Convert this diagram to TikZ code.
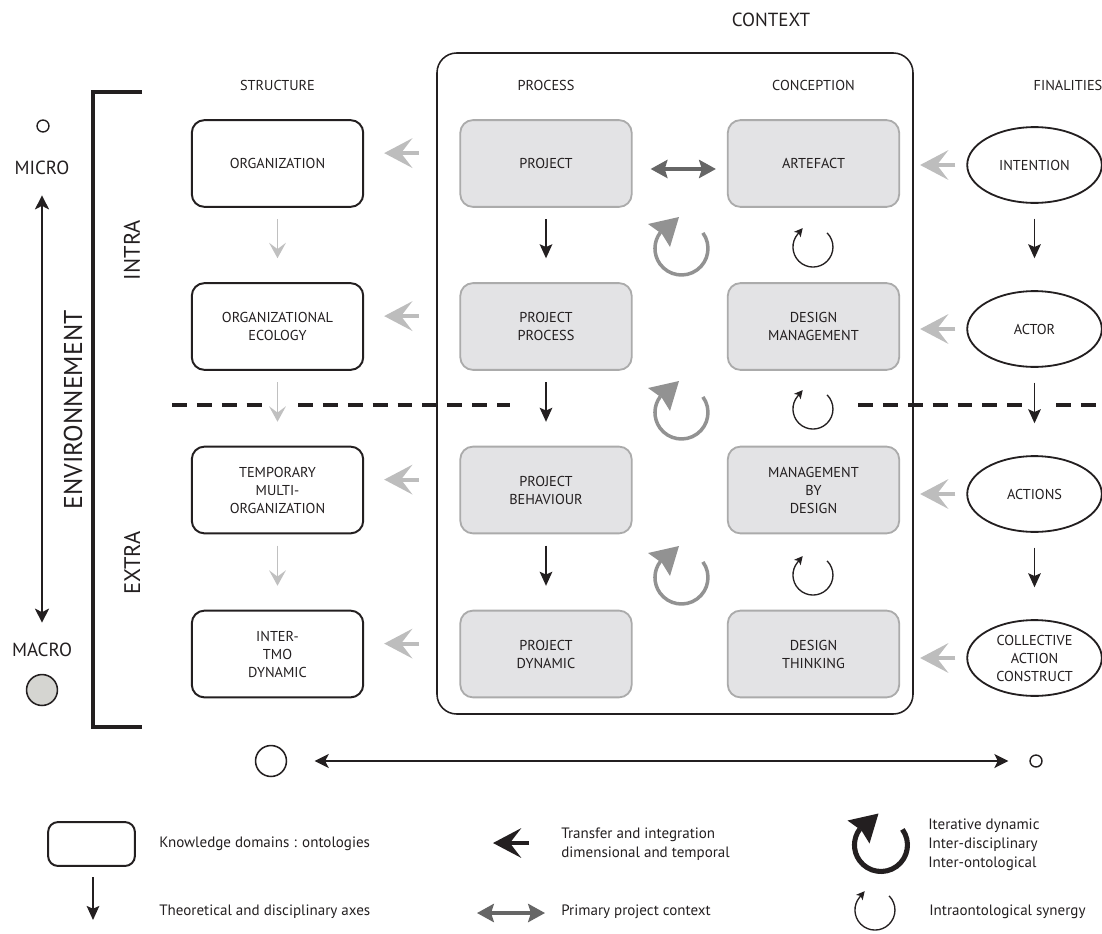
\documentclass[tikz,border=0pt]{standalone}
\usepackage{fontspec}
\setmainfont{PT Sans}
\usetikzlibrary{arrows.meta,shapes.geometric}
\definecolor{ink}{HTML}{231F20}
\definecolor{boxfill}{HTML}{E3E3E5}
\definecolor{boxline}{HTML}{ABABAB}
\definecolor{transgray}{HTML}{BDBDBD}
\definecolor{cycgray}{HTML}{929292}
\definecolor{dblgray}{HTML}{666666}
\definecolor{structgray}{HTML}{C0C0C0}
\definecolor{dotfill}{HTML}{D5D5D1}
\tikzset{
  lbl/.style={font=\fontsize{10.2}{12.8}\selectfont, text=ink, align=center},
  sbox/.style={lbl, draw=ink, line width=1.4pt, rounded corners=9pt, minimum width=121.9pt, minimum height=61.7pt, inner sep=0pt},
  pbox/.style={lbl, draw=boxline, fill=boxfill, line width=1.3pt, rounded corners=9pt, minimum width=121.9pt, minimum height=61.7pt, inner sep=0pt},
  fell/.style={lbl, ellipse, draw=ink, line width=1.3pt, minimum width=95.7pt, minimum height=53.9pt, inner sep=0pt},
  head/.style={lbl},
  legtxt/.style={font=\fontsize{10.7}{13.6}\selectfont, text=ink, align=left, anchor=west, inner sep=0pt},
  transfer/.style={draw=transgray, line width=2.8pt, -{Stealth[length=20pt,width=21pt,inset=8pt]}},
  transferblack/.style={draw=ink, line width=2.8pt, -{Stealth[length=20pt,width=21pt,inset=8pt]}},
  downblack/.style={draw=ink, line width=1.1pt, -{Stealth[length=10pt,width=9pt,inset=2pt]}},
  downgray/.style={draw=structgray, line width=0.9pt, -{Stealth[length=11pt,width=12pt,inset=4.5pt]}},
  dbl/.style={draw=dblgray, line width=2.2pt, {Stealth[length=12pt,width=13pt,inset=2pt]}-{Stealth[length=12pt,width=13pt,inset=2pt]}},
  thindbl/.style={draw=ink, line width=1.1pt, {Stealth[length=10pt,width=10pt,inset=2.5pt]}-{Stealth[length=10pt,width=10pt,inset=2.5pt]}},
  dashline/.style={draw=ink, line width=2.5pt, dash pattern=on 10.6pt off 7.1pt},
  pics/bigcyc/.style 2 args={code={
    \draw[draw=#1, line width=#2] (21.4,-15.6) arc[start angle=-36, end angle=217, radius=26.5];
    \fill[#1] (-2.5,-31.5) -- (-33.5,-24.5) -- (-19.5,-14.5) -- (-11.5,-1.5) -- cycle;
  }},
  pics/smallcyc/.style={code={
    \draw[draw=ink, line width=0.95pt, -{Stealth[length=6pt,width=6pt,inset=1.5pt]}] (14.1,-14.1) arc[start angle=-45, end angle=220, radius=20] -- ++(5.1,-6.1);
  }}
}
\begin{document}
\begin{tikzpicture}[x=0.025cm, y=-0.025cm]
\useasboundingbox (0,0) rectangle (1102,933);

% headings
\node[font=\fontsize{13.5}{15}\selectfont, text=ink] (ctxlabel) at (771,20) {CONTEXT};
\node[head] (hstruct) at (277.5,85) {STRUCTURE};
\node[head] (hproc) at (546,85) {PROCESS};
\node[head] (hconc) at (813.5,85) {CONCEPTION};
\node[head] (hfin) at (1068,85) {FINALITIES};

% context frame
\draw[draw=ink, line width=1.1pt, rounded corners=14pt] (437,53) rectangle (913,714);

% left bracket and labels
\draw[draw=ink, line width=2.5pt] (142,92) -- (93,92) -- (93,727) -- (142,727);
\node[rotate=90, font=\fontsize{18.3}{20}\selectfont, text=ink] (env) at (73,410) {ENVIRONNEMENT};
\node[rotate=90, font=\fontsize{16}{19}\selectfont, text=ink] (intra) at (132,250) {INTRA};
\node[rotate=90, font=\fontsize{16}{19}\selectfont, text=ink] (extra) at (132,563) {EXTRA};

\node[circle, draw=ink, line width=1pt, minimum size=8.5pt, inner sep=0pt] (microdot) at (43,126) {};
\node[font=\fontsize{13.5}{16}\selectfont, text=ink] (micro) at (42,168) {MICRO};
\node[font=\fontsize{13.5}{16}\selectfont, text=ink] (macro) at (42,650) {MACRO};
\node[circle, draw=ink, fill=dotfill, line width=1.1pt, minimum size=22pt, inner sep=0pt] (macrodot) at (42,690) {};
\draw[thindbl, shorten <=11pt, shorten >=11pt] (micro.south) -- (macro.north);

% structure boxes
\node[sbox] (s1) at (277.5,163.5) {ORGANIZATION};
\node[sbox] (s2) at (277.5,326.5) {ORGANIZATIONAL\\ECOLOGY};
\node[sbox] (s3) at (277.5,490) {TEMPORARY\\MULTI-\\ORGANIZATION};
\node[sbox] (s4) at (277.5,654) {INTER-\\TMO\\DYNAMIC};

% process boxes
\node[pbox] (p1) at (546,163.5) {PROJECT};
\node[pbox] (p2) at (546,326.5) {PROJECT\\PROCESS};
\node[pbox] (p3) at (546,490) {PROJECT\\BEHAVIOUR};
\node[pbox] (p4) at (546,654) {PROJECT\\DYNAMIC};

% conception boxes
\node[pbox] (c1) at (813.5,163.5) {ARTEFACT};
\node[pbox] (c2) at (813.5,326.5) {DESIGN\\MANAGEMENT};
\node[pbox] (c3) at (813.5,490) {MANAGEMENT\\BY\\DESIGN};
\node[pbox] (c4) at (813.5,654) {DESIGN\\THINKING};

% finalities
\node[fell] (f1) at (1034.5,165) {INTENTION};
\node[fell] (f2) at (1034.5,329) {ACTOR};
\node[fell] (f3) at (1034.5,494) {ACTIONS};
\node[fell] (f4) at (1034.5,658) {COLLECTIVE\\ACTION\\CONSTRUCT};

% dashed separation
\draw[dashline] (172,405) -- (262,405);
\draw[dashline] (298,405) -- (510,405);
\draw[dashline] (858,405) -- (1022,405);
\draw[dashline] (1056,405) -- (1102,405);

% transfer arrows process -> structure
\foreach \i in {1,...,4}{
  \draw[transfer, shorten <=29pt, shorten >=14.2pt] ([yshift=7.4pt]p\i.west) -- ([yshift=7.4pt]s\i.east);
}
% transfer arrows finalities -> conception
\foreach \i in {1,...,4}{
  \draw[transfer, shorten <=7.8pt, shorten >=14.2pt] (f\i.west) -- (f\i.west -| c\i.east);
}

% vertical axes
\foreach \a/\b in {1/2,2/3,3/4}{
  \draw[downgray, shorten <=8pt, shorten >=17pt] (s\a.south) -- (s\b.north);
  \draw[downblack, shorten <=8pt, shorten >=17pt] (p\a.south) -- (p\b.north);
  \draw[downblack, shorten <=10.6pt, shorten >=22.7pt] (f\a.south) -- (f\b.north);
}

% primary project context
\draw[dbl, shorten <=12.8pt, shorten >=7.8pt] ([yshift=-3.9pt]p1.east) -- ([yshift=-3.9pt]c1.west);

% cycles
\pic at (681.5,248.5) {bigcyc={cycgray}{2.5pt}};
\pic at (681.5,412.5) {bigcyc={cycgray}{2.5pt}};
\pic at (681.5,577.5) {bigcyc={cycgray}{2.5pt}};
\pic at (813,247) {smallcyc};
\pic at (813,409) {smallcyc};
\pic at (813,575) {smallcyc};

% bottom scale
\node[circle, draw=ink, line width=1.1pt, minimum size=22pt, inner sep=0pt] (bigdot) at (271,761) {};
\node[circle, draw=ink, line width=1pt, minimum size=8.5pt, inner sep=0pt] (smalldot) at (1036,761) {};
\draw[thindbl, shorten <=19.5pt, shorten >=14.9pt] (bigdot) -- (smalldot);

% legend
\node[draw=ink, line width=1.4pt, rounded corners=7pt, minimum width=61.7pt, minimum height=31.2pt, inner sep=0pt] (lbox) at (91.5,844) {};
\node[legtxt] (lbtxt) at (159,844) {Knowledge domains : ontologies};
\coordinate (la1) at (93,877);
\coordinate (la2) at (93,920);
\draw[downblack] (la1) -- (la2);
\node[legtxt] (latxt) at (159,912) {Theoretical and disciplinary axes};

\coordinate (lt1) at (529,843);
\coordinate (lt2) at (493,843);
\draw[transferblack] (lt1) -- (lt2);
\node[legtxt] (lttxt) at (561,844) {Transfer and integration\\dimensional and temporal};
\coordinate (ld1) at (477,913);
\coordinate (ld2) at (545,913);
\draw[dbl] (ld1) -- (ld2);
\node[legtxt] (ldtxt) at (561,912) {Primary project context};

\pic at (881,845) {bigcyc={ink}{3.6pt}};
\node[legtxt] (lctxt) at (928,845) {Iterative dynamic\\Inter-disciplinary\\Inter-ontological};
\pic at (875,910) {smallcyc};
\node[legtxt] (lsctxt) at (929,912) {Intraontological synergy};
\end{tikzpicture}
\end{document}
